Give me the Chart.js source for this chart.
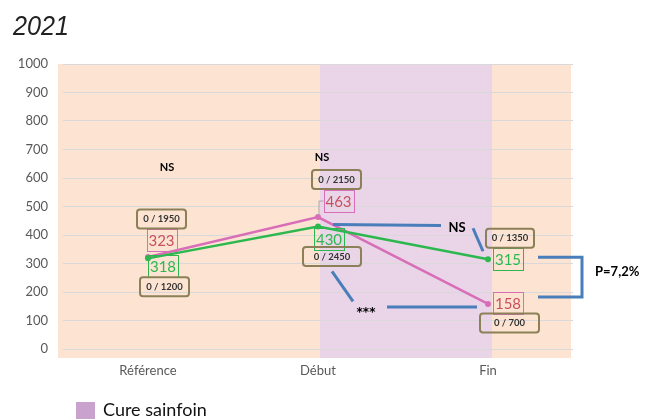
<!DOCTYPE html>
<html>
<head>
<meta charset="utf-8">
<script src="https://cdn.jsdelivr.net/npm/chart.js@4/dist/chart.umd.min.js"></script>
<style>
html, body { margin: 0; padding: 0; background: #fff; }
#wrap { width: 657px; height: 419px; }
</style>
</head>
<body>
<div id="wrap"><canvas id="chart" width="657" height="419"></canvas></div>
<script>
// data
const categories = ['Référence', 'Début', 'Fin'];
const pinkValues = [323, 463, 158];
const greenValues = [318, 430, 315];
const pinkCounts = ['0 / 1950', '0 / 2150', '0 / 700'];
const greenCounts = ['0 / 1200', '0 / 2450', '0 / 1350'];
const yMin = 0, yMax = 1000, yStep = 100;
const titleText = '2021';
const legendText = 'Cure sainfoin';

// colours
const PINK = '#D96EB8';
const PINK_TXT = '#C8505E';
const GREEN = '#2DB84F';
const BLUE = '#4A7EBB';
const OLIVE = '#8C8058';

// label placement, offsets from each point (px)
const pinkBoxes = [
    { val: [13.5, -16.5], cnt: [13.5, -38, 49] },
    { val: [20.5, -16], cnt: [18.5, -37.5, 49], leader: true },
    { val: [20, -1], cnt: [21.5, 19, 59] }
];
const greenBoxes = [
    { val: [15, 8], cnt: [16.5, 28.5, 49] },
    { val: [11, 13], cnt: [14, 30, 58] },
    { val: [20, 0], cnt: [22, -21, 48] }
];

const pt = (chart, ds, i) => {
    const el = chart.getDatasetMeta(ds).data[i];
    return { x: el.x, y: el.y };
};

const roundRect = (ctx, x, y, w, h, r) => {
    ctx.beginPath();
    ctx.moveTo(x + r, y);
    ctx.lineTo(x + w - r, y);
    ctx.quadraticCurveTo(x + w, y, x + w, y + r);
    ctx.lineTo(x + w, y + h - r);
    ctx.quadraticCurveTo(x + w, y + h, x + w - r, y + h);
    ctx.lineTo(x + r, y + h);
    ctx.quadraticCurveTo(x, y + h, x, y + h - r);
    ctx.lineTo(x, y + r);
    ctx.quadraticCurveTo(x, y, x + r, y);
    ctx.closePath();
};

const line = (ctx, pts) => {
    ctx.beginPath();
    ctx.moveTo(pts[0][0], pts[0][1]);
    pts.slice(1).forEach(p => ctx.lineTo(p[0], p[1]));
    ctx.stroke();
};

const backgroundPlugin = {
    id: 'bands',
    beforeDraw(chart) {
        const { ctx, chartArea } = chart;
        const xs = chart.scales.x;
        ctx.save();
        ctx.fillStyle = '#FDE4D2';
        ctx.fillRect(chartArea.left - 5, chartArea.top, chartArea.width + 3, chartArea.height + 9);
        const x1 = xs.getPixelForValue(1) + 2;
        const x2 = xs.getPixelForValue(2) + 4;
        ctx.fillStyle = '#E9D5E7';
        ctx.fillRect(x1, chartArea.top, x2 - x1, chartArea.height + 9);
        ctx.restore();
    }
};

const annotationPlugin = {
    id: 'notes',
    afterDatasetsDraw(chart) {
        const ctx = chart.ctx;
        ctx.save();
        ctx.textAlign = 'center';
        ctx.textBaseline = 'middle';

        const drawBoxes = (ds, boxes, values, counts, border, txt) => {
            boxes.forEach((b, i) => {
                const p = pt(chart, ds, i);
                // value box
                const vx = p.x + b.val[0], vy = p.y + b.val[1];
                ctx.strokeStyle = border;
                ctx.lineWidth = 1;
                ctx.strokeRect(Math.round(vx - 15) + 0.5, Math.round(vy - 11) + 0.5, 30, 22);
                ctx.fillStyle = txt;
                ctx.font = '15px Lato';
                ctx.fillText(String(values[i]), vx, vy + 1);
                if (b.leader) {
                    ctx.strokeStyle = '#A6A6A6';
                    line(ctx, [[vx - 15, vy], [p.x + 1, vy], [p.x + 1, p.y - 2]]);
                }
                // count box
                const cx = p.x + b.cnt[0], cy = p.y + b.cnt[1], w = b.cnt[2];
                ctx.strokeStyle = OLIVE;
                ctx.lineWidth = 2;
                roundRect(ctx, cx - w / 2, cy - 9.5, w, 19, 3);
                ctx.stroke();
                ctx.fillStyle = '#333';
                ctx.font = 'bold 9.5px Lato';
                ctx.fillText(counts[i], cx, cy);
            });
        };
        drawBoxes(0, pinkBoxes, pinkValues, pinkCounts, PINK, PINK_TXT);
        drawBoxes(1, greenBoxes, greenValues, greenCounts, GREEN, GREEN);

        // significance marks
        const p0 = pt(chart, 0, 0);
        const p1 = pt(chart, 0, 1);
        const p2 = pt(chart, 0, 2);
        const g1 = pt(chart, 1, 1);
        const g2 = pt(chart, 1, 2);
        ctx.fillStyle = '#000';
        ctx.font = 'bold 11px Lato';
        ctx.fillText('NS', p0.x + 19, p0.y - 89);
        ctx.fillText('NS', p1.x + 4, p1.y - 60);

        ctx.strokeStyle = BLUE;
        ctx.lineWidth = 3;
        line(ctx, [[g1.x + 15, g1.y - 2], [g1.x + 123, g1.y - 1]]);
        line(ctx, [[g2.x - 15, g2.y - 31], [g2.x - 5, g2.y - 8]]);
        line(ctx, [[g1.x + 14, g1.y + 45], [g1.x + 35, g1.y + 75]]);
        line(ctx, [[p2.x - 101, p2.y + 3], [p2.x - 11, p2.y + 3]]);
        line(ctx, [[g2.x + 50, g2.y - 2], [g2.x + 94, g2.y - 2], [g2.x + 94, p2.y - 7], [g2.x + 50, p2.y - 7]]);

        ctx.font = 'bold 13px Lato';
        ctx.fillText('NS', g1.x + 139, g1.y + 1);
        ctx.textAlign = 'left';
        ctx.fillText('P=7,2%', g2.x + 107, (g2.y + p2.y) / 2 - 10);
        ctx.textAlign = 'center';
        ctx.textBaseline = 'alphabetic';
        ctx.font = 'bold 12px "DejaVu Sans"';
        ctx.fillText('***', p2.x - 122, p2.y + 12);

        // title
        ctx.textAlign = 'left';
        ctx.fillStyle = '#222';
        ctx.font = 'italic 28px "Liberation Sans"';
        ctx.save();
        ctx.translate(13, 35);
        ctx.scale(0.9, 1);
        ctx.fillText(titleText, 0, 0);
        ctx.restore();

        // legend
        ctx.fillStyle = '#C9A3CD';
        ctx.fillRect(76, 402, 19, 18);
        ctx.fillStyle = '#111';
        ctx.font = '18px Lato';
        ctx.textBaseline = 'middle';
        ctx.fillText(legendText, 103, 410);
        ctx.restore();
    }
};

new Chart(document.getElementById('chart').getContext('2d'), {
    type: 'line',
    data: {
        labels: categories,
        datasets: [
            {
                label: 'pink',
                data: pinkValues,
                borderColor: PINK,
                backgroundColor: PINK,
                borderWidth: 2.5,
                pointRadius: 3,
                pointBorderWidth: 0,
                tension: 0,
                order: 2
            },
            {
                label: 'green',
                data: greenValues,
                borderColor: GREEN,
                backgroundColor: GREEN,
                borderWidth: 2.5,
                pointRadius: 3,
                pointBorderWidth: 0,
                tension: 0,
                order: 1
            }
        ]
    },
    options: {
        responsive: false,
        animation: false,
        layout: { padding: { top: 64, right: 84, bottom: 0, left: 0 } },
        plugins: {
            legend: { display: false },
            tooltip: { enabled: false }
        },
        scales: {
            x: {
                offset: true,
                grid: { display: false, drawTicks: false },
                border: { display: false },
                ticks: { color: '#595959', font: { family: 'Lato', size: 13 }, padding: 14 },
                afterFit: s => { s.height = 70; }
            },
            y: {
                min: yMin,
                max: yMax,
                grid: { color: '#D9D9D9', drawTicks: false },
                border: { display: false },
                ticks: {
                    stepSize: yStep,
                    color: '#595959',
                    font: { family: 'Lato', size: 13 },
                    padding: 15,
                    callback: v => String(v)
                },
                afterFit: s => { s.width = 63; }
            }
        }
    },
    plugins: [backgroundPlugin, annotationPlugin]
});
</script>
</body>
</html>
